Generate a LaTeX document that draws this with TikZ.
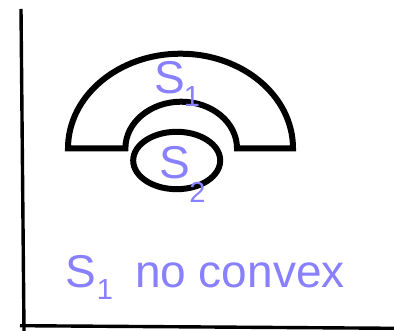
\documentclass[tikz,border=0pt]{standalone}
\usepackage{fontspec}
\setmainfont{Liberation Sans}
\definecolor{lav}{RGB}{136,128,255}
\newcommand{\subsz}{\fontsize{29}{29}\selectfont}
\begin{document}
\begin{tikzpicture}[x=1pt,y=1pt,
  outline/.style={line width=6pt,draw=black},
  axisline/.style={line width=3.4pt,draw=black},
  lbl/.style={text=lav,inner sep=0pt,anchor=base west,font=\fontsize{46}{46}\selectfont}]
\useasboundingbox (0,0) rectangle (394,331);
\coordinate (ytop) at (21,322);
\coordinate (org) at (24,0);
\coordinate (xo) at (20,5.3);
\coordinate (xend) at (394,2.7);
\draw[axisline] (ytop) -- (org);
\draw[axisline] (xo) -- (xend);
\draw[outline,line join=miter] (68,182.7) arc[start angle=180,end angle=0,x radius=112.5pt,y radius=94.6pt]
  -- (237,182.7) arc[start angle=0,end angle=180,x radius=55.8pt,y radius=46.6pt] -- cycle;
\draw[outline] (176.7,170.5) ellipse[x radius=43.5pt,y radius=28.7pt];
\node[lbl] (s1) at (154.5,237.7) {S\kern-1.5pt\raisebox{-13.4pt}{\subsz 1}};
\node[lbl] (s2) at (159.5,152.7) {S\kern-1pt\raisebox{-24pt}{\subsz 2}};
\node[lbl] (t) at (65,43.3) {S\kern1pt\raisebox{-12.3pt}{\subsz 1}\kern22pt no convex};
\end{tikzpicture}
\end{document}
